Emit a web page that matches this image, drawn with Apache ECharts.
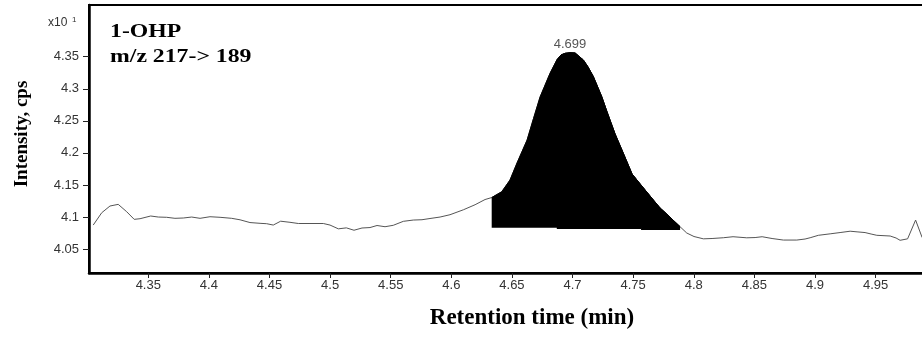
<!DOCTYPE html>
<html>
<head>
<meta charset="utf-8">
<script src="https://cdn.jsdelivr.net/npm/echarts@6/dist/echarts.min.js"></script>
<style>
  html, body { margin: 0; padding: 0; background: #fff; }
  #chart { width: 922px; height: 339px; }
</style>
</head>
<body>
<div id="chart"></div>
<script>
// retention time (min)
const times = [
  4.3046, 4.3116, 4.3184, 4.3252, 4.3322, 4.3384, 4.3432, 4.3520, 4.3583, 4.3652,
  4.3720, 4.3789, 4.3858, 4.3927, 4.4009, 4.4092, 4.4188, 4.4257, 4.4339, 4.4422,
  4.4477, 4.4531, 4.4592, 4.4669, 4.4738, 4.4834, 4.4944, 4.4999, 4.5068, 4.5134,
  4.5197, 4.5263, 4.5329, 4.5387, 4.5453, 4.5521, 4.5604, 4.5686, 4.5758, 4.5824,
  4.5907, 4.5989, 4.6099, 4.6196, 4.6278, 4.6333, 4.6416, 4.6484, 4.6542, 4.6625,
  4.6678, 4.6732, 4.6814, 4.6870, 4.6905, 4.6938, 4.6979, 4.7021, 4.7089, 4.7128,
  4.7172, 4.7241, 4.7285, 4.7351, 4.7419, 4.7491, 4.7565, 4.7667, 4.7722, 4.7777,
  4.7829, 4.7887, 4.7942, 4.8002, 4.8079, 4.8151, 4.8244, 4.8324, 4.8437, 4.8506,
  4.8564, 4.8646, 4.8739, 4.8850, 4.8918, 4.8960, 4.9028, 4.9125, 4.9207, 4.9290,
  4.9347, 4.9413, 4.9463, 4.9510, 4.9620, 4.9669, 4.9702, 4.9764, 4.9830, 4.9884
]
// intensity (x10^1 cps)
const intensity = [
  4.0874, 4.1066, 4.1171, 4.1197, 4.1082, 4.0963, 4.0973, 4.1015, 4.0999, 4.0995,
  4.0979, 4.0984, 4.0999, 4.0979, 4.1004, 4.0995, 4.0979, 4.0956, 4.0913, 4.0901,
  4.0895, 4.0874, 4.0934, 4.0917, 4.0898, 4.0898, 4.0898, 4.0874, 4.0815, 4.0830,
  4.0793, 4.0828, 4.0835, 4.0867, 4.0848, 4.0870, 4.0932, 4.0952, 4.0957, 4.0976,
  4.0999, 4.1035, 4.1112, 4.1191, 4.1272, 4.1303, 4.1394, 4.1576, 4.1842, 4.2200,
  4.2536, 4.2871, 4.3241, 4.3449, 4.3527, 4.3553, 4.3562, 4.3558, 4.3449, 4.3339,
  4.3188, 4.2876, 4.2637, 4.2294, 4.1993, 4.1670, 4.1498, 4.1264, 4.1140, 4.1046,
  4.0952, 4.0848, 4.0750, 4.0695, 4.0659, 4.0664, 4.0676, 4.0692, 4.0675, 4.0679,
  4.0692, 4.0664, 4.0640, 4.0640, 4.0656, 4.0676, 4.0714, 4.0737, 4.0757, 4.0778,
  4.0768, 4.0757, 4.0734, 4.0714, 4.0703, 4.0672, 4.0636, 4.0659, 4.0952, 4.0679
]
const xTicks = [4.35, 4.4, 4.45, 4.5, 4.55, 4.6, 4.65, 4.7, 4.75, 4.8, 4.85, 4.9, 4.95]
const yTicks = [4.05, 4.1, 4.15, 4.2, 4.25, 4.3, 4.35]
// integrated peak: index ranges of the trace and their baselines
const peakSegments = [[45, 71], [53, 66], [66, 71]]
const peakBaselines = [4.0832, 4.0812, 4.0797]
const peakLabel = '4.699'

const serif = '"Liberation Serif", "Times New Roman", serif'
const sans = '"Liberation Sans", Arial, sans-serif'

const chart = echarts.init(document.getElementById('chart'))

const trace = times.map((t, i) => [t, intensity[i]])

// first segment spans the whole peak, the later ones step the baseline down
const fills = peakSegments.map((seg, k) => {
    const s = {
        type: 'line',
        data: trace.slice(seg[0], seg[1] + 1),
        symbol: 'none',
        lineStyle: { color: '#000', width: 1 },
        areaStyle: { color: '#000', opacity: 1, origin: peakBaselines[k] },
        z: 3,
        silent: true
    }
    if (k === 0) {
        s.markPoint = {
            symbol: 'circle',
            symbolSize: 0,
            data: [{ type: 'max' }],
            label: {
                show: true,
                position: 'top',
                distance: 2,
                formatter: peakLabel,
                color: '#555',
                fontSize: 13,
                fontFamily: sans
            }
        }
    }
    return s
})

const option = {
    animation: false,
    backgroundColor: '#fff',
    grid: {
        left: 89,
        top: 5,
        right: -53,
        bottom: 66,
        containLabel: false,
        outerBoundsMode: 'none',
        show: true,
        borderColor: '#000',
        borderWidth: 2
    },
    xAxis: {
        type: 'value',
        min: 4.3011,
        max: 5.032,
        name: 'Retention time (min)',
        nameLocation: 'middle',
        nameGap: 34,
        nameTextStyle: { fontFamily: serif, fontWeight: 'bold', fontSize: 23, color: '#000' },
        axisLine: { show: true, onZero: false, lineStyle: { color: '#000', width: 2.5 } },
        axisTick: { show: true, length: 5, customValues: xTicks, lineStyle: { color: '#222' } },
        axisLabel: { customValues: xTicks, margin: 6, fontSize: 13, fontFamily: sans, color: '#333' },
        splitLine: { show: false }
    },
    yAxis: {
        type: 'value',
        min: 4.0126,
        max: 4.4307,
        name: 'Intensity, cps',
        nameLocation: 'middle',
        nameGap: 57,
        nameTextStyle: { fontFamily: serif, fontWeight: 'bold', fontSize: 19, color: '#000',
                         padding: [0, 0, 0, 10] },
        axisLine: { show: true, lineStyle: { color: '#000', width: 2.5 } },
        axisTick: { show: true, length: 6, customValues: yTicks, lineStyle: { color: '#222' } },
        axisLabel: { customValues: yTicks, margin: 10, fontSize: 13, fontFamily: sans, color: '#333' },
        splitLine: { show: false }
    },
    graphic: [
        {
            type: 'text', x: 110, y: 32, scaleX: 1.25,
            style: { text: '1-OHP', font: 'bold 19px ' + serif, fill: '#000',
                     textVerticalAlign: 'middle', verticalAlign: 'middle' }
        },
        {
            type: 'text', x: 110, y: 57, scaleX: 1.25,
            style: { text: 'm/z 217-> 189', font: 'bold 19px ' + serif, fill: '#000',
                     textVerticalAlign: 'middle', verticalAlign: 'middle' }
        },
        {
            type: 'text', x: 48, y: 22.5,
            style: { text: 'x10', font: '12px ' + sans, fill: '#333',
                     textVerticalAlign: 'middle', verticalAlign: 'middle' }
        },
        {
            type: 'text', x: 72, y: 19.5,
            style: { text: '1', font: '8px ' + sans, fill: '#333',
                     textVerticalAlign: 'middle', verticalAlign: 'middle' }
        }
    ],
    series: [
        {
            type: 'line',
            data: trace,
            symbol: 'none',
            lineStyle: { color: '#555', width: 1 },
            z: 2,
            silent: true
        }
    ].concat(fills)
}

chart.setOption(option)
</script>
</body>
</html>
